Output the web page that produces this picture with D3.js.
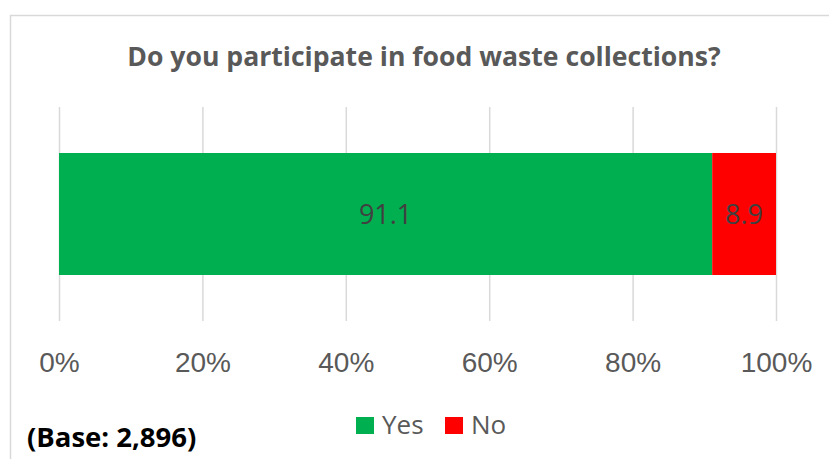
<!DOCTYPE html>
<html>
<head>
<meta charset="utf-8">
<script src="https://cdn.jsdelivr.net/npm/d3@7"></script>
<style>
  body { margin: 0; background: #fff; }
  svg { display: block; font-family: "Open Sans", "Liberation Sans", sans-serif; }
</style>
</head>
<body>
<svg id="chart" width="829" height="459"></svg>
<script>
// data
const chartTitle = "Do you participate in food waste collections?";
const categories = ["Q"];
const seriesNames = ["Yes", "No"];
const seriesValues = [91.1, 8.9];
const seriesColors = ["#00B050", "#FF0000"];
const tickValues = [0, 20, 40, 60, 80, 100];
const baseNote = "(Base: 2,896)";

const svg = d3.select("#chart");

// chart frame
svg.append("rect")
    .attr("x", 10.5).attr("y", 15.5)
    .attr("width", 830).attr("height", 460)
    .attr("fill", "#fff").attr("stroke", "#d9d9d9").attr("stroke-width", 1.5);

const x = d3.scaleLinear().domain([0, 100]).range([59, 776]);
const y = d3.scaleBand().domain(categories).range([107, 321]).paddingInner(0).paddingOuter(0.377);

// gridlines
svg.append("g").selectAll("line").data(tickValues).enter().append("line")
    .attr("x1", d => x(d) + 0.5).attr("x2", d => x(d) + 0.5)
    .attr("y1", 107).attr("y2", 321)
    .attr("stroke", "#d9d9d9").attr("stroke-width", 1.5);

// stacked bar
let acc = 0;
const stack = seriesValues.map((v, i) => {
    const s = { name: seriesNames[i], value: v, x0: acc, x1: acc + v, color: seriesColors[i] };
    acc += v;
    return s;
});

svg.append("g").selectAll("rect").data(stack).enter().append("rect")
    .attr("x", d => x(d.x0)).attr("width", d => x(d.x1) - x(d.x0))
    .attr("y", y("Q")).attr("height", y.bandwidth())
    .attr("fill", d => d.color);

svg.append("g").selectAll("text").data(stack).enter().append("text")
    .attr("x", d => (x(d.x0) + x(d.x1)) / 2)
    .attr("y", y("Q") + y.bandwidth() / 2 + 10)
    .attr("text-anchor", "middle")
    .attr("font-size", 27).attr("fill", "#404040")
    .text(d => d.value.toFixed(1));

// x axis labels
const axis = d3.axisBottom(x).tickValues(tickValues).tickFormat(d => d + "%").tickSize(0).tickPadding(0);
const ax = svg.append("g").attr("transform", "translate(0,350)").call(axis);
ax.select(".domain").remove();
ax.selectAll("text")
    .attr("dy", 0).attr("y", 22)
    .attr("font-size", 28).attr("font-family", null).attr("fill", "#595959");

// title
svg.append("text")
    .attr("x", 424).attr("y", 66)
    .attr("text-anchor", "middle")
    .attr("font-size", 26.6).attr("font-weight", "bold").attr("fill", "#595959")
    .text(chartTitle);

// legend
const legend = svg.append("g").attr("transform", "translate(356,417)");
const legItem = legend.selectAll("g").data(seriesNames).enter().append("g")
    .attr("transform", (d, i) => `translate(${i * 89},0)`);
legItem.append("rect").attr("width", 18).attr("height", 17)
    .attr("fill", (d, i) => seriesColors[i]);
legItem.append("text").attr("x", 26).attr("y", 17)
    .attr("font-size", 26).attr("fill", "#595959")
    .text(d => d);

// base note
svg.append("text")
    .attr("x", 27).attr("y", 447)
    .attr("font-size", 27.5).attr("font-weight", "bold").attr("fill", "#000")
    .text(baseNote);
</script>
</body>
</html>
